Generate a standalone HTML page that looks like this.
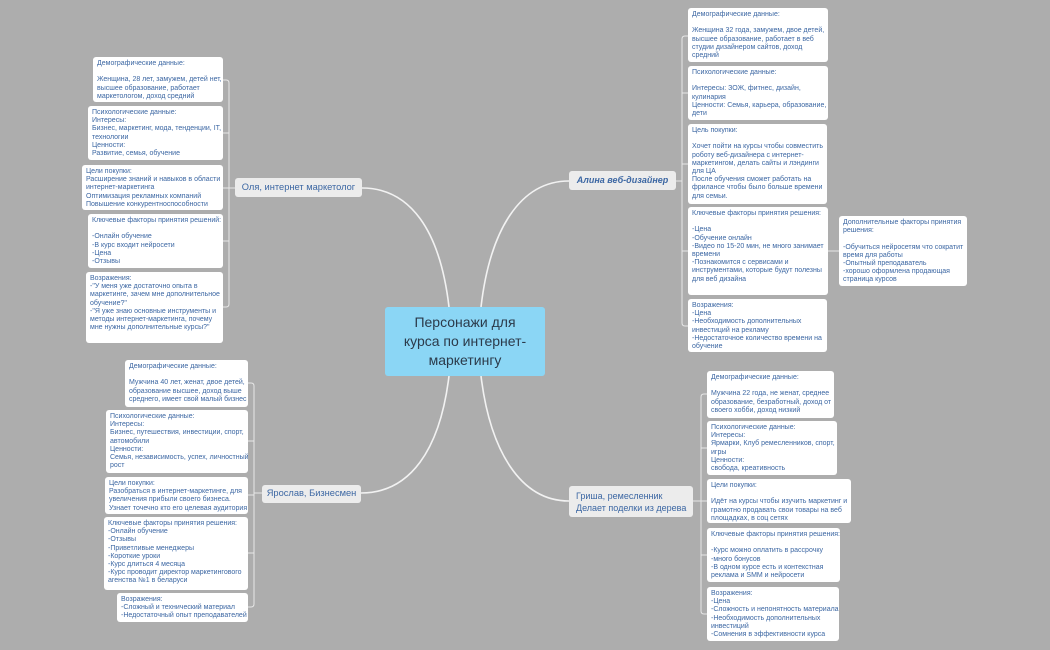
<!DOCTYPE html>
<html><head><meta charset="utf-8"><style>
body{margin:0;width:1050px;height:650px;background:#adadad;position:relative;overflow:hidden;font-family:"Liberation Sans","DejaVu Sans",sans-serif}
.b{position:absolute;background:#fff;border-radius:3px;color:#3c67a3;font-size:7px;line-height:8.2px;padding:3px 4px;box-sizing:border-box;white-space:nowrap;overflow:hidden}
.n{position:absolute;background:#ececec;border-radius:3px;color:#3c67a3;font-size:9.3px;line-height:12px;box-sizing:border-box;padding:3px 0;white-space:nowrap;text-align:center}
svg{position:absolute;left:0;top:0}
</style></head><body>
<svg width="1050" height="650" fill="none" stroke="#f2f2f2" stroke-width="1.6">
<path d="M449,307 C440,230 410,188 362,188"/>
<path d="M481,307 C490,230 520,181 569,181"/>
<path d="M449,376 C440,450 410,493 361,493"/>
<path d="M481,376 C490,450 520,501 569,501"/>
<g stroke-width="1" stroke="#e8e8e8">
<path d="M235,188 H229 M223,80 H226 Q229,80 229,83 V304 Q229,307 226,307 H223 M223,133 H229 M223,188 H229 M223,241 H229"/>
<path d="M676,181 H682 M688,36 H685 Q682,36 682,39 V323 Q682,326 685,326 H688 M688,93 H682 M688,164 H682 M688,251 H682 M828,251 H839"/>
<path d="M262,493 H254 M248,383 H251 Q254,383 254,386 V604 Q254,607 251,607 H248 M248,441 H254 M248,495 H254 M248,553 H254"/>
<path d="M693,501 H701 M707,394 H704 Q701,394 701,397 V611 Q701,614 704,614 H707 M707,448 H701 M707,501 H701 M707,555 H701"/>
</g>
</svg>
<div style="position:absolute;left:385px;top:307px;width:160px;height:69px;background:#8bd6f5;border-radius:3px;color:#2b3a4a;font-size:14px;line-height:19px;text-align:center;padding-top:6px;box-sizing:border-box">Персонажи для<br>курса по интернет-<br>маркетингу</div>

<div class="n" style="left:235px;top:178px;width:127px;height:19px">Оля, интернет маркетолог</div>
<div class="b" style="left:93px;top:57px;width:130px;height:45px">Демографические данные:<br><br>Женщина, 28 лет, замужем, детей нет,<br>высшее образование, работает<br>маркетологом, доход средний</div>
<div class="b" style="left:88px;top:106px;width:135px;height:54px">Психологические данные:<br>Интересы:<br>Бизнес, маркетинг, мода, тенденции, IT,<br>технологии<br>Ценности:<br>Развитие, семья, обучение</div>
<div class="b" style="left:82px;top:165px;width:141px;height:45px">Цели покупки:<br>Расширение знаний и навыков в области<br>интернет-маркетинга<br>Оптимизация рекламных компаний<br>Повышение конкурентноспособности</div>
<div class="b" style="left:88px;top:214px;width:135px;height:54px">Ключевые факторы принятия решений:<br><br>-Онлайн обучение<br>-В курс входит нейросети<br>-Цена<br>-Отзывы</div>
<div class="b" style="left:86px;top:272px;width:137px;height:71px">Возражения:<br>-"У меня уже достаточно опыта в<br>маркетинге, зачем мне дополнительное<br>обучение?"<br>-"Я уже знаю основные инструменты и<br>методы интернет-маркетинга, почему<br>мне нужны дополнительные курсы?"</div>

<div class="n" style="left:569px;top:171px;width:107px;height:19px;font-weight:bold;font-style:italic;font-size:9px">Алина веб-дизайнер</div>
<div class="b" style="left:688px;top:8px;width:140px;height:54px">Демографические данные:<br><br>Женщина 32 года, замужем, двое детей,<br>высшее образование, работает в веб<br>студии дизайнером сайтов, доход<br>средний</div>
<div class="b" style="left:688px;top:66px;width:140px;height:54px">Психологические данные:<br><br>Интересы: ЗОЖ, фитнес, дизайн,<br>кулинария<br>Ценности: Семья, карьера, образование,<br>дети</div>
<div class="b" style="left:688px;top:124px;width:139px;height:80px">Цель покупки:<br><br>Хочет пойти на курсы чтобы совместить<br>роботу веб-дизайнера с интернет-<br>маркетингом, делать сайты и лэндинги<br>для ЦА<br>После обучения сможет работать на<br>фрилансе чтобы было больше времени<br>для семьи.</div>
<div class="b" style="left:688px;top:207px;width:140px;height:88px">Ключевые факторы принятия решения:<br><br>-Цена<br>-Обучение онлайн<br>-Видео по 15-20 мин, не много занимает<br>времени<br>-Познакомится с сервисами и<br>инструментами, которые будут полезны<br>для веб дизайна</div>
<div class="b" style="left:688px;top:299px;width:139px;height:53px">Возражения:<br>-Цена<br>-Необходимость дополнительных<br>инвестиций на рекламу<br>-Недостаточное количество времени на<br>обучение</div>
<div class="b" style="left:839px;top:216px;width:128px;height:70px">Дополнительные факторы принятия<br>решения:<br><br>-Обучиться нейросетям что сократит<br>время для работы<br>-Опытный преподаватель<br>-хорошо оформлена продающая<br>страница курсов</div>

<div class="n" style="left:262px;top:485px;width:99px;height:18px;padding-top:2px">Ярослав, Бизнесмен</div>
<div class="b" style="left:125px;top:360px;width:123px;height:47px">Демографические данные:<br><br>Мужчина 40 лет, женат, двое детей,<br>образование высшее, доход выше<br>среднего, имеет свой малый бизнес</div>
<div class="b" style="left:106px;top:410px;width:142px;height:63px">Психологические данные:<br>Интересы:<br>Бизнес, путешествия, инвестиции, спорт,<br>автомобили<br>Ценности:<br>Семья, независимость, успех, личностный<br>рост</div>
<div class="b" style="left:105px;top:477px;width:143px;height:37px">Цели покупки:<br>Разобраться в интернет-маркетинге, для<br>увеличения прибыли своего бизнеса.<br>Узнает точечно кто его целевая аудитория</div>
<div class="b" style="left:104px;top:517px;width:144px;height:73px">Ключевые факторы принятия решения:<br>-Онлайн обучение<br>-Отзывы<br>-Приветливые менеджеры<br>-Короткие уроки<br>-Курс длиться 4 месяца<br>-Курс проводит директор маркетингового<br>агенства №1 в беларуси</div>
<div class="b" style="left:117px;top:593px;width:131px;height:29px">Возражения:<br>-Сложный и технический материал<br>-Недостаточный опыт преподавателей</div>

<div class="n" style="left:569px;top:486px;width:124px;height:31px;padding:4px 0 0 7px;text-align:left;font-size:9px">Гриша, ремесленник<br>Делает поделки из дерева</div>
<div class="b" style="left:707px;top:371px;width:127px;height:47px">Демографические данные:<br><br>Мужчина 22 года, не женат, среднее<br>образование, безработный, доход от<br>своего хобби, доход низкий</div>
<div class="b" style="left:707px;top:421px;width:130px;height:54px">Психологические данные:<br>Интересы:<br>Ярмарки, Клуб ремесленников, спорт,<br>игры<br>Ценности:<br>свобода, креативность</div>
<div class="b" style="left:707px;top:479px;width:144px;height:44px">Цели покупки:<br><br>Идёт на курсы чтобы изучить маркетинг и<br>грамотно продавать свои товары на веб<br>площадках, в соц сетях</div>
<div class="b" style="left:707px;top:528px;width:133px;height:54px">Ключевые факторы принятия решения:<br><br>-Курс можно оплатить в рассрочку<br>-много бонусов<br>-В одном курсе есть и контекстная<br>реклама и SMM и нейросети</div>
<div class="b" style="left:707px;top:587px;width:132px;height:54px">Возражения:<br>-Цена<br>-Сложность и непонятность материала<br>-Необходимость дополнительных<br>инвестиций<br>-Сомнения в эффективности курса</div>
</body></html>
